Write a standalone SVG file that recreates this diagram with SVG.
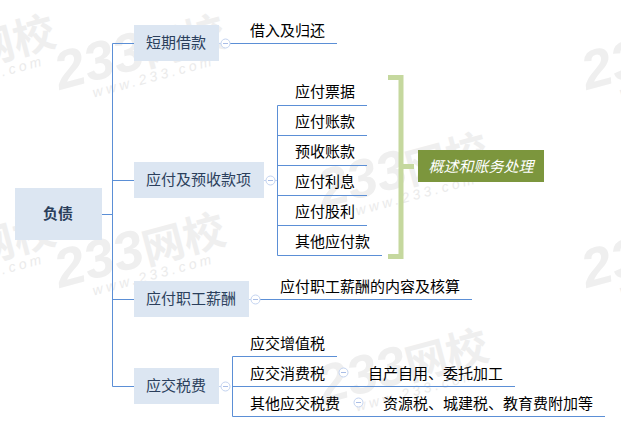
<svg xmlns="http://www.w3.org/2000/svg" width="621" height="432" viewBox="0 0 621 432">
<style>
text{font-family:"Noto Sans CJK SC","Noto Sans",sans-serif;font-size:15px}
.wm{fill:#efefef;font-family:"Liberation Sans","Noto Sans CJK SC",sans-serif;font-weight:700;font-size:54px;font-style:italic}
.wm3{font-family:"Noto Sans CJK SC",sans-serif;font-size:42px;font-style:normal}
.wm2{fill:#ebebeb;font-family:"Liberation Sans",sans-serif;font-size:14px;letter-spacing:3.500px;font-style:italic}
.n{fill:#dce6f2}
.nt{fill:#2b3f5c;text-anchor:middle;dominant-baseline:central}
.lf{fill:#000;dominant-baseline:central}
.c{fill:none;stroke:#5b8fd6;stroke-width:1}
.st{fill:none;stroke:#c3d3f0;stroke-width:1}
.ic{fill:#fff;stroke:#c3d3f0;stroke-width:1}
.icm{stroke:#a9bde6;stroke-width:1}
.br{fill:none;stroke:#c5d89e;stroke-width:5}
</style>
<defs>
<g id="mark">
<g transform="rotate(-15)">
<text class="wm" x="0" y="0">233<tspan class="wm3">网校</tspan></text>
<text class="wm2" x="31" y="16">www.233.com</text>
</g>
</g>
<g id="icon"><circle class="ic" r="4.500"/><path class="icm" d="M-2.500 0H2.500"/></g>
</defs>
<g id="watermarks">
<use href="#mark" x="-110" y="90"/><use href="#mark" x="-110" y="288"/>
<use href="#mark" x="60" y="90"/><use href="#mark" x="60" y="288"/>
<use href="#mark" x="323" y="208"/><use href="#mark" x="323" y="404"/>
<use href="#mark" x="587" y="90"/><use href="#mark" x="587" y="288"/>
</g>
<g id="connectors">
<path class="c" d="M102 214.500H112.500M112.500 43.500V386.500M112.500 43.500H134M112.500 180.500H134M112.500 299.500H134M112.500 386.500H134"/>
<path class="c" d="M230 43.500H337"/>
<path class="c" d="M277.500 105.500V255.500M277.500 105.500H367M277.500 135.500H367M277.500 165.500H367M277.500 195.500H367M277.500 225.500H367M277.500 255.500H382"/>
<path class="c" d="M260 299.500H472"/>
<path class="c" d="M232.500 356.500V416.500M232.500 356.500H337M232.500 386.500H515M232.500 416.500H605"/>
<path class="st" d="M219 43.500H221M264 180.500H266M275 180.500H277M249 299.500H251M219 386.500H221"/>
</g>
<g id="boundary">
<path class="br" d="M388 77.500H401V256.500H388"/>
<path d="M403 166.500H414" class="br"/>
</g>
<g id="root"><rect class="n" x="15" y="188" width="87" height="52"/><text class="nt" x="58" y="212.500" font-weight="700">负债</text></g>
<g id="n1"><rect class="n" x="134" y="25" width="85" height="36"/><text class="nt" x="176" y="41.500">短期借款</text><use href="#icon" x="225.500" y="43.500"/></g>
<g id="n1a"><text class="lf" x="250" y="29">借入及归还</text></g>
<g id="n2"><rect class="n" x="134" y="162" width="130" height="36"/><text class="nt" x="198.500" y="178.500">应付及预收款项</text><use href="#icon" x="270.500" y="180.500"/></g>
<g id="n2a"><text class="lf" x="295" y="90">应付票据</text></g>
<g id="n2b"><text class="lf" x="295" y="120">应付账款</text></g>
<g id="n2c"><text class="lf" x="295" y="150">预收账款</text></g>
<g id="n2d"><text class="lf" x="295" y="180">应付利息</text></g>
<g id="n2e"><text class="lf" x="295" y="210">应付股利</text></g>
<g id="n2f"><text class="lf" x="295" y="240">其他应付款</text></g>
<g id="summary"><rect x="418" y="150" width="126" height="32" fill="#7c963d"/><text x="481" y="165" fill="#fff" font-style="italic" text-anchor="middle" dominant-baseline="central">概述和账务处理</text></g>
<g id="n3"><rect class="n" x="134" y="281" width="115" height="36"/><text class="nt" x="191" y="297.500">应付职工薪酬</text><use href="#icon" x="255.500" y="299.500"/></g>
<g id="n3a"><text class="lf" x="280" y="285">应付职工薪酬的内容及核算</text></g>
<g id="n4"><rect class="n" x="134" y="368" width="85" height="36"/><text class="nt" x="176" y="384.500">应交税费</text><use href="#icon" x="225.500" y="386.500"/></g>
<g id="n4a"><text class="lf" x="250" y="342">应交增值税</text></g>
<g id="n4b"><text class="lf" x="250" y="372">应交消费税</text><use href="#icon" x="343.500" y="372.500"/></g>
<g id="n4b1"><text class="lf" x="368" y="372">自产自用、委托加工</text></g>
<g id="n4c"><text class="lf" x="250" y="402">其他应交税费</text><use href="#icon" x="358.500" y="402.500"/></g>
<g id="n4c1"><text class="lf" x="383" y="402">资源税、城建税、教育费附加等</text></g>
</svg>
